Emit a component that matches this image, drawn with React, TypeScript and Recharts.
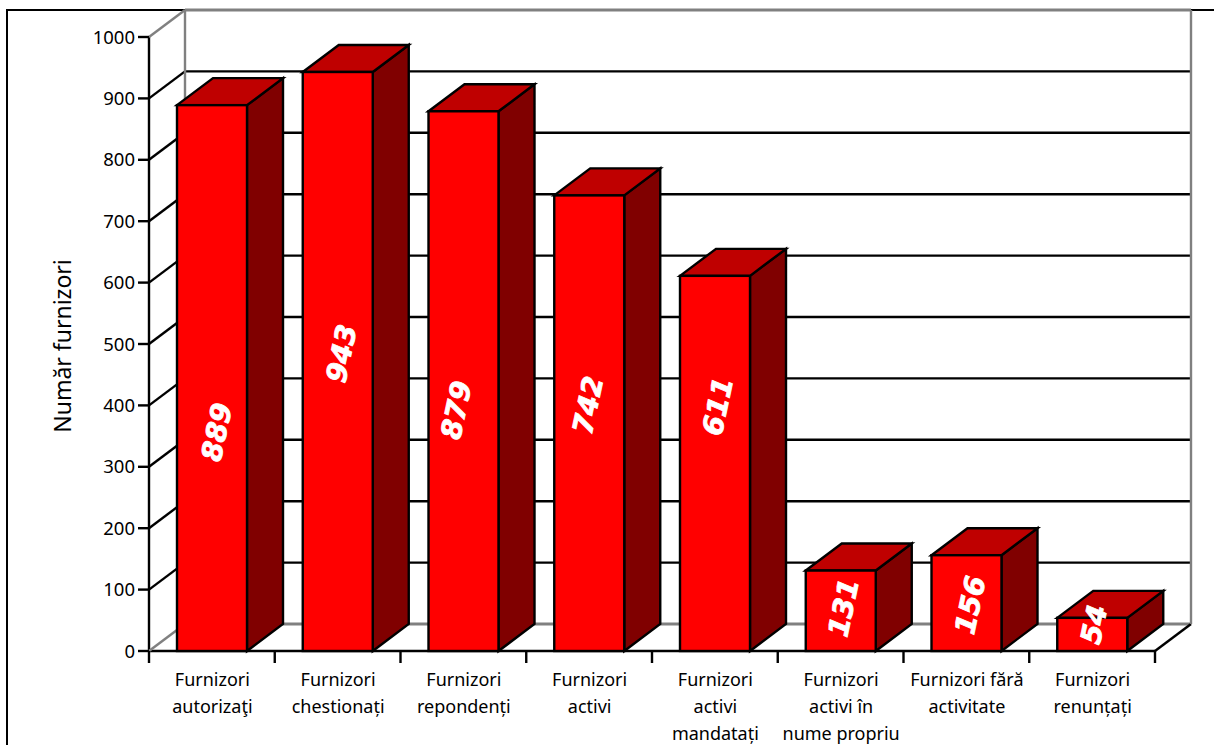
import React from 'react';
import { ComposedChart, Bar, XAxis, YAxis } from 'recharts';

const categories = [
  'Furnizori\nautorizaţi',
  'Furnizori\nchestionați',
  'Furnizori\nrepondenți',
  'Furnizori\nactivi',
  'Furnizori\nactivi\nmandatați',
  'Furnizori\nactivi în\nnume propriu',
  'Furnizori fără\nactivitate',
  'Furnizori\nrenunțați',
];
const values = [889, 943, 879, 742, 611, 131, 156, 54];
const yTicks = [0, 100, 200, 300, 400, 500, 600, 700, 800, 900, 1000];
const axisTitle = 'Număr furnizori';

// Hand placement of the value labels, relative to the bar's front face centre
const labelNudgeX = [5, 4, -7, -1, 3, 3, 4, 2];
const labelNudgeY = [54, -8, 29, -18, -57, -3, 2, -10];

const tableData = categories.map((category, i) => ({ category, value: values[i] }));

const W = 1214;
const H = 745;
const AXIS_X = 149;
const PLOT_RIGHT = 1155;
const PLOT_TOP = 37;
const PLOT_BOTTOM = 651;
const DX = 36;
const DY = 27;
const BAND = (PLOT_RIGHT - AXIS_X) / categories.length;
const FONT = '"Noto Sans", sans-serif';
const BOLD_FONT = '"DejaVu Sans", sans-serif';
const GRAY = '#808080';
const LINE = 2.4;
const MARGIN = { top: PLOT_TOP, right: W - PLOT_RIGHT, bottom: 0, left: 0 };

function YTick(props: any) {
  const { y, payload } = props;
  const v = payload.value;
  const isEdge = v === 0 || v === 1000;
  const stroke = isEdge ? GRAY : '#000';
  const backLeft = AXIS_X + DX;
  const backRight = PLOT_RIGHT + DX;
  return (
    <g>
      <line x1={AXIS_X} y1={y} x2={backLeft} y2={y - DY} stroke={stroke} strokeWidth={LINE} />
      <line x1={backLeft} y1={y - DY} x2={backRight} y2={y - DY} stroke={stroke} strokeWidth={isEdge ? 3 : LINE} />
      {v === 1000 && (
        <>
          <line x1={backLeft} y1={y - DY} x2={backLeft} y2={PLOT_BOTTOM - DY} stroke={GRAY} strokeWidth={LINE} />
          <line x1={backRight} y1={y - DY} x2={backRight} y2={PLOT_BOTTOM - DY} stroke={GRAY} strokeWidth={LINE} />
        </>
      )}
      {v === 0 && (
        <line x1={PLOT_RIGHT} y1={y} x2={backRight} y2={y - DY} stroke="#000" strokeWidth={LINE} />
      )}
      <line x1={AXIS_X - 11} y1={y} x2={AXIS_X} y2={y} stroke="#000" strokeWidth={LINE} />
      <text x={135} y={y + 6.5} textAnchor="end" fontFamily={FONT} fontSize={18.5} fill="#000">
        {v}
      </text>
    </g>
  );
}

function XTick(props: any) {
  const { x, payload, index } = props;
  const lines = String(payload.value).split('\n');
  const left = x - BAND / 2;
  return (
    <g>
      <line x1={left} y1={PLOT_BOTTOM} x2={left} y2={PLOT_BOTTOM + 12} stroke="#000" strokeWidth={LINE} />
      {index === categories.length - 1 && (
        <line x1={left + BAND} y1={PLOT_BOTTOM} x2={left + BAND} y2={PLOT_BOTTOM + 12} stroke="#000" strokeWidth={LINE} />
      )}
      {lines.map((line, i) => (
        <text key={i} x={x + 0.5} y={686 + i * 27} textAnchor="middle" fontFamily={FONT} fontSize={18} fill="#000">
          {line}
        </text>
      ))}
    </g>
  );
}

function Bar3D(props: any) {
  const { x, y, width, height, index, value } = props;
  const r = x + width;
  const b = y + height;
  const cx = x + width / 2 + labelNudgeX[index];
  const cy = y + height / 2 + labelNudgeY[index];
  return (
    <g stroke="#000" strokeWidth={LINE} strokeLinejoin="miter">
      <polygon points={`${r},${y} ${r + DX},${y - DY} ${r + DX},${b - DY} ${r},${b}`} fill="#800000" />
      <polygon points={`${x},${y} ${x + DX},${y - DY} ${r + DX},${y - DY} ${r},${y}`} fill="#bf0000" />
      <rect x={x} y={y} width={width} height={height} fill="#ff0000" />
      <text
        x={cx}
        y={cy}
        transform={`rotate(-78 ${cx} ${cy})`}
        textAnchor="middle"
        dominantBaseline="central"
        fontFamily={BOLD_FONT}
        fontSize={28}
        fontWeight="bold"
        fontStyle="italic"
        fill="#fff"
        stroke="#fff"
        strokeWidth={0.8}
      >
        {value}
      </text>
    </g>
  );
}

export default function App() {
  return (
    <div style={{ position: 'absolute', left: 0, top: 0, width: W, height: H, overflow: 'hidden', background: '#fff' }}>
      <div
        style={{
          position: 'absolute',
          left: 6,
          top: 9,
          width: W + 100,
          height: H + 100,
          border: '2px solid #000',
          boxSizing: 'border-box',
        }}
      />
      {/* Walls, grid and axes: lies under the bars, with the same scales */}
      <div style={{ position: 'absolute', left: 0, top: 0 }}>
        <ComposedChart width={W} height={H} data={tableData} margin={MARGIN}>
          <YAxis
            type="number"
            domain={[0, 1000]}
            ticks={yTicks}
            interval={0}
            width={AXIS_X}
            tick={(p: any) => <YTick {...p} />}
            tickLine={false}
            axisLine={{ stroke: '#000', strokeWidth: LINE }}
            label={{
              value: axisTitle,
              angle: -90,
              position: 'insideLeft',
              offset: 0,
              dx: 63,
              dy: 2,
              fontFamily: FONT,
              fontSize: 23,
              fill: '#000',
              style: { textAnchor: 'middle' },
            }}
          />
          <XAxis
            dataKey="category"
            interval={0}
            height={H - PLOT_BOTTOM}
            tick={(p: any) => <XTick {...p} />}
            tickLine={false}
            axisLine={{ stroke: '#000', strokeWidth: LINE }}
          />
          <Bar dataKey="value" barSize={70} shape={() => null} isAnimationActive={false} />
        </ComposedChart>
      </div>
      {/* Bars */}
      <div style={{ position: 'absolute', left: 0, top: 0 }}>
        <ComposedChart width={W} height={H} data={tableData} margin={MARGIN}>
          <YAxis type="number" domain={[0, 1000]} ticks={yTicks} width={AXIS_X} tick={false} tickLine={false} axisLine={false} />
          <XAxis dataKey="category" height={H - PLOT_BOTTOM} tick={false} tickLine={false} axisLine={false} />
          <Bar dataKey="value" barSize={70} shape={(p: any) => <Bar3D {...p} />} isAnimationActive={false} />
        </ComposedChart>
      </div>
    </div>
  );
}
